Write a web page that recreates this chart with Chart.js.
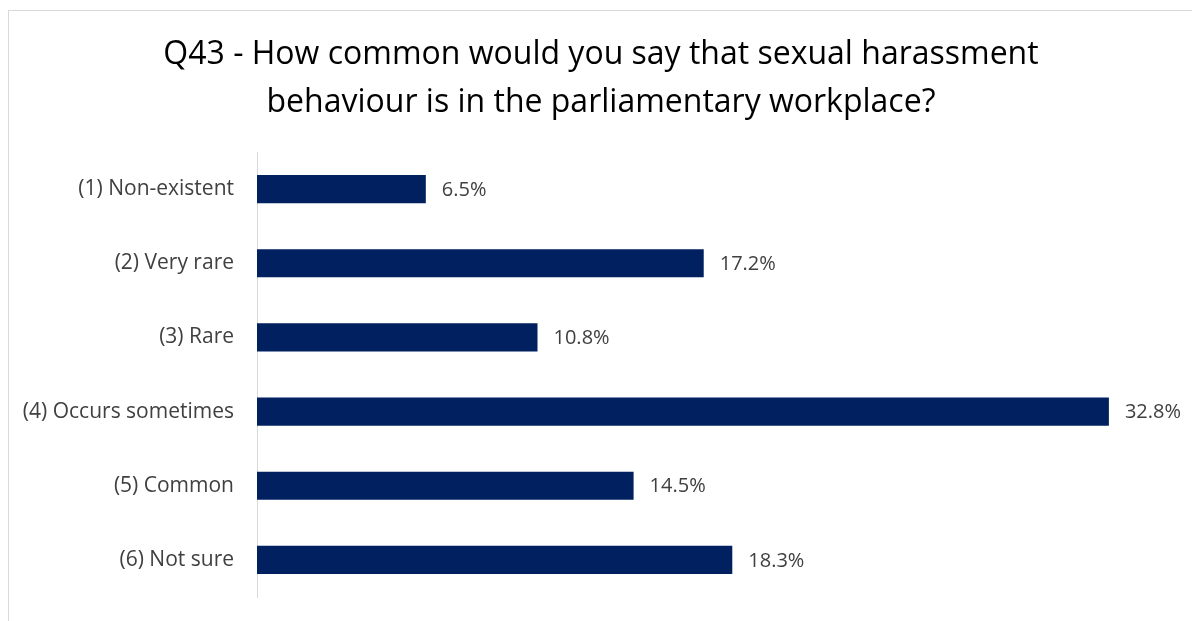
<!DOCTYPE html>
<html>
<head>
<meta charset="utf-8">
<script src="https://cdn.jsdelivr.net/npm/chart.js@4.4.1/dist/chart.umd.min.js"></script>
<style>
  html, body { margin: 0; padding: 0; background: #fff; overflow: hidden; }
  #wrap { position: relative; width: 1192px; height: 621px; }
  #frame { position: absolute; left: 8px; top: 10px; width: 1200px; height: 640px;
           border: 1px solid #d9d9d9; box-sizing: border-box; }
  canvas { position: absolute; left: 0; top: 0; }
</style>
</head>
<body>
<div id="wrap">
  <div id="frame"></div>
  <canvas id="chart" width="1192" height="621"></canvas>
</div>
<script>
  const titleLines = [
    'Q43 - How common would you say that sexual harassment',
    'behaviour is in the parliamentary workplace?'
  ];
  const categories = [
    '(1) Non-existent',
    '(2) Very rare',
    '(3) Rare',
    '(4) Occurs sometimes',
    '(5) Common',
    '(6) Not sure'
  ];
  const shares = [6.5, 17.2, 10.8, 32.8, 14.5, 18.3];

  const FONT = '"Open Sans", Lato, sans-serif';

  // Percentage written just past the end of each bar
  const valueLabels = {
    id: 'valueLabels',
    afterDatasetsDraw(chart) {
      const ctx = chart.ctx;
      const meta = chart.getDatasetMeta(0);
      ctx.save();
      ctx.font = '20px ' + FONT;
      ctx.fillStyle = '#404040';
      ctx.textAlign = 'left';
      ctx.textBaseline = 'middle';
      meta.data.forEach((bar, i) => {
        ctx.fillText(shares[i].toFixed(1) + '%', bar.x + 16, bar.y + 1);
      });
      ctx.restore();
    }
  };

  new Chart(document.getElementById('chart'), {
    type: 'bar',
    data: {
      labels: categories,
      datasets: [{
        data: shares,
        backgroundColor: '#002060',
        borderWidth: 0,
        barPercentage: 0.76,
        categoryPercentage: 0.5
      }]
    },
    options: {
      indexAxis: 'y',
      responsive: false,
      animation: false,
      layout: { padding: { left: 10, right: 0, top: 0, bottom: 24 } },
      plugins: {
        legend: { display: false },
        tooltip: { enabled: false },
        title: {
          display: true,
          text: titleLines,
          color: '#000',
          font: { family: FONT, size: 32, weight: 'normal', lineHeight: 1.5 },
          padding: { top: 31, bottom: 25 }
        }
      },
      scales: {
        x: {
          display: false,
          min: 0,
          max: 36
        },
        y: {
          afterFit(scale) {
            scale.width = 247;
            // labels sit mid-band, so no overflow room is needed
            scale.paddingTop = 0;
            scale.paddingBottom = 0;
          },
          grid: { display: false, drawTicks: false },
          border: { display: true, color: '#d9d9d9', width: 1 },
          ticks: {
            color: '#404040',
            padding: 23,
            font: { family: FONT, size: 21 }
          }
        }
      }
    },
    plugins: [valueLabels]
  });
</script>
</body>
</html>
